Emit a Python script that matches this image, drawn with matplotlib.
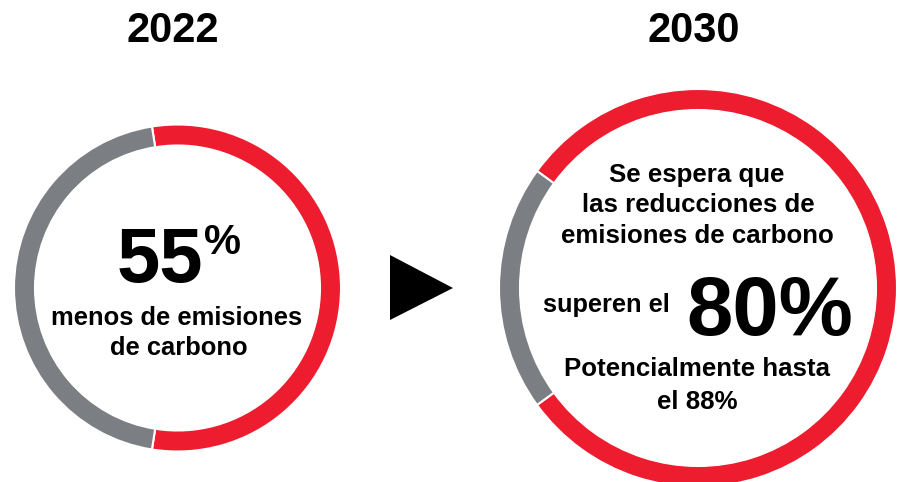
import matplotlib
matplotlib.use("Agg")
import matplotlib.pyplot as plt
from matplotlib.patches import Polygon

plt.rcParams['font.family'] = ['Liberation Sans', 'DejaVu Sans']

# data
years = ['2022', '2030']
share_2022 = [55, 45]   # red (reduction), grey (rest)
share_2030 = [80, 20]
colors = ['#ED1C2E', '#7B7E82']
big_2022 = '55'
big_2030 = '80%'
potential = 88

W, H = 901, 482
fig = plt.figure(figsize=(W / 100, H / 100), dpi=100)
ax = fig.add_axes([0, 0, 1, 1])

rings = [
    (share_2022, (177.5, 288), 163.5),
    (share_2030, (698, 288), 199),
]
for vals, c, r in rings:
    # red slice centred on the right side of the ring
    start = -vals[0] / sum(vals) * 180
    ax.pie(vals, colors=colors, startangle=start, counterclock=True,
           center=c, radius=r,
           wedgeprops=dict(width=21, edgecolor='white', linewidth=1.5))

ax.set_xlim(0, W)
ax.set_ylim(H, 0)
ax.set_aspect('equal')
ax.axis('off')

# titles
ax.text(173, 31, years[0], ha='center', va='center', fontsize=30, fontweight='bold')
ax.text(694, 31, years[1], ha='center', va='center', fontsize=30, fontweight='bold')

# arrow
ax.add_patch(Polygon([(390, 255), (390, 320), (453, 288)], closed=True, color='black', lw=0))

# left ring text
ax.text(203, 282, big_2022, ha='right', va='baseline', fontsize=56, fontweight='bold')
ax.text(204, 254, '%', ha='left', va='baseline', fontsize=30, fontweight='bold')
ax.text(177, 325, 'menos de emisiones', ha='center', va='baseline', fontsize=18.4, fontweight='bold')
ax.text(179, 355, 'de carbono', ha='center', va='baseline', fontsize=18.4, fontweight='bold')

# right ring text
ax.text(697, 182, 'Se espera que', ha='center', va='baseline', fontsize=18.6, fontweight='bold')
ax.text(698, 212, 'las reducciones de', ha='center', va='baseline', fontsize=18.6, fontweight='bold')
ax.text(697, 243, 'emisiones de carbono', ha='center', va='baseline', fontsize=18.6, fontweight='bold')
ax.text(606, 312, 'superen el', ha='center', va='baseline', fontsize=18.3, fontweight='bold')
ax.text(686, 335, big_2030, ha='left', va='baseline', fontsize=60, fontweight='bold')
ax.text(697, 376, 'Potencialmente hasta', ha='center', va='baseline', fontsize=18.6, fontweight='bold')
ax.text(697, 409, 'el %d%%' % potential, ha='center', va='baseline', fontsize=18.6, fontweight='bold')

fig.savefig('out.png', dpi=100, facecolor='white')
